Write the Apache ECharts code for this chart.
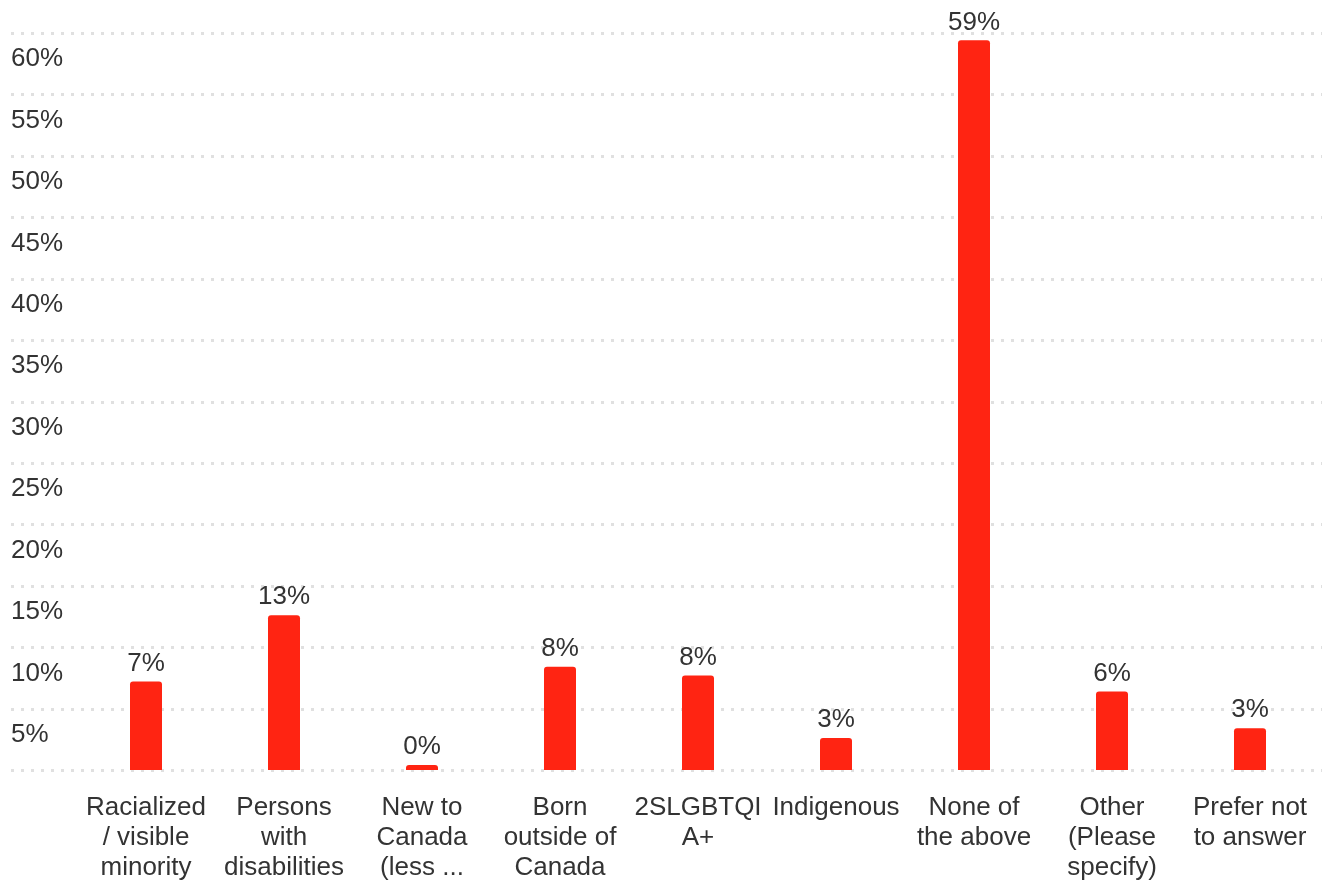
<!DOCTYPE html>
<html>
<head>
<meta charset="utf-8">
<style>
  html, body { margin: 0; padding: 0; background: #ffffff; }
  #chart { width: 1330px; height: 883px; }
</style>
<script src="https://cdn.jsdelivr.net/npm/echarts@6/dist/echarts.min.js"></script>
</head>
<body>
<div id="chart"></div>
<script>
const categories = [
  "Racialized\n/ visible\nminority",
  "Persons\nwith\ndisabilities",
  "New to\nCanada\n(less ...",
  "Born\noutside of\nCanada",
  "2SLGBTQI\nA+",
  "Indigenous",
  "None of\nthe above",
  "Other\n(Please\nspecify)",
  "Prefer not\nto answer"
];
const values = [7.2, 12.6, 0.4, 8.4, 7.7, 2.6, 59.4, 6.4, 3.4];
const yMin = 0, yMax = 60, yInterval = 5;

const FONT = "Liberation Sans, Arial, Helvetica, sans-serif";
const TEXT = "#333333";
const chart = echarts.init(document.getElementById('chart'), null, { renderer: 'canvas' });

const gridTop = 33, gridBottom = 112.5;

chart.setOption({
  animation: false,
  backgroundColor: '#ffffff',
  grid: [
    { left: 11, right: 8, top: gridTop, bottom: gridBottom, containLabel: false },
    { left: 77, right: 11, top: gridTop, bottom: gridBottom, containLabel: false }
  ],
  xAxis: [
    { type: 'value', gridIndex: 0, show: false, min: 0, max: 1 },
    {
      type: 'category', gridIndex: 1, data: categories,
      axisLine: { show: false }, axisTick: { show: false },
      axisLabel: {
        interval: 0, color: TEXT, fontFamily: FONT, fontSize: 26,
        lineHeight: 30, margin: 23, align: 'center'
      }
    }
  ],
  yAxis: [
    {
      type: 'value', gridIndex: 0, min: yMin, max: yMax, interval: yInterval,
      axisLine: { show: false }, axisTick: { show: false },
      splitLine: { show: true, lineStyle: { color: '#e0e0e0', width: 3, type: [3, 7] } },
      axisLabel: {
        inside: true, margin: 0, color: TEXT, fontFamily: FONT, fontSize: 26,
        verticalAlign: 'top', padding: [13, 0, 0, 0],
        formatter: v => v === 0 ? '' : v + '%'
      }
    },
    {
      type: 'value', gridIndex: 1, min: yMin, max: yMax, interval: yInterval,
      show: false, splitLine: { show: false }
    }
  ],
  series: [{
    type: 'bar', xAxisIndex: 1, yAxisIndex: 1, data: values,
    barWidth: 32,
    itemStyle: { color: '#ff2412', borderRadius: [3, 3, 0, 0] },
    label: {
      show: true, position: 'top', distance: 5, color: TEXT,
      fontFamily: FONT, fontSize: 26,
      formatter: p => Math.round(p.value) + '%'
    }
  }]
});
</script>
</body>
</html>
